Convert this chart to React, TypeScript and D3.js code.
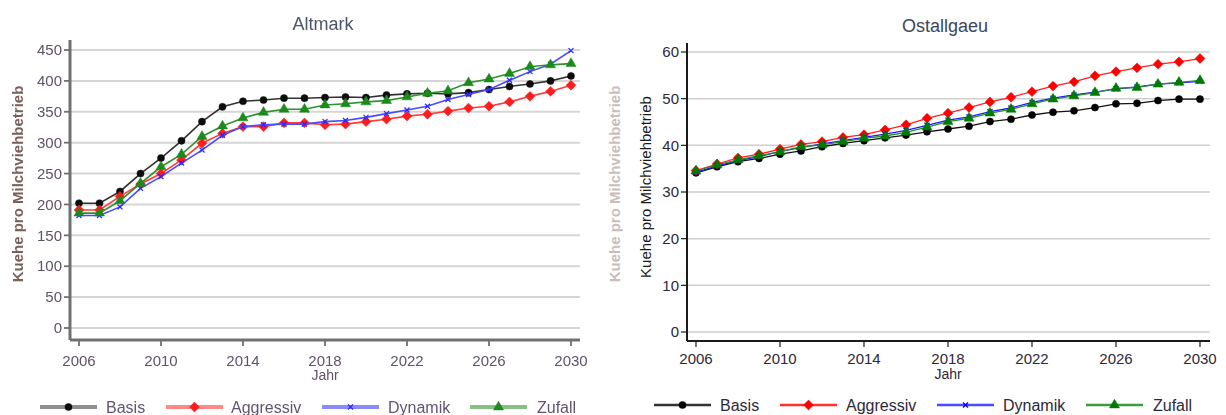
import React from "react";
import * as d3 from "d3";

// ---------------- DATA ----------------
const years = [2006, 2007, 2008, 2009, 2010, 2011, 2012, 2013, 2014, 2015, 2016, 2017, 2018, 2019, 2020, 2021, 2022, 2023, 2024, 2025, 2026, 2027, 2028, 2029, 2030];
const xTickYears = [2006, 2010, 2014, 2018, 2022, 2026, 2030];
const seriesNames = ["Basis", "Aggressiv", "Dynamik", "Zufall"];

const altmarkBasis = [202, 202, 221, 250, 275, 303, 334, 358, 367, 369, 372, 372, 373, 374, 373, 377, 379, 380, 379, 381, 386, 391, 395, 400, 408];
const altmarkAggressiv = [191, 191, 213, 233, 250, 272, 299, 315, 326, 326, 332, 332, 329, 330, 334, 338, 343, 346, 351, 356, 359, 366, 375, 383, 393];
const altmarkDynamik = [182, 182, 196, 226, 245, 267, 288, 312, 326, 329, 330, 330, 334, 336, 341, 347, 353, 359, 370, 378, 386, 401, 415, 427, 449];
const altmarkZufall = [186, 186, 206, 234, 261, 281, 310, 327, 340, 349, 354, 354, 361, 363, 366, 368, 374, 380, 384, 397, 403, 412, 423, 426, 428];
const altmarkYTicks = [0, 50, 100, 150, 200, 250, 300, 350, 400, 450];

const ostBasis = [34.1, 35.4, 36.5, 37.2, 38.1, 38.8, 39.7, 40.4, 41.0, 41.6, 42.2, 42.9, 43.5, 44.1, 45.1, 45.6, 46.5, 47.1, 47.4, 48.1, 48.9, 49.0, 49.6, 49.9, 49.9];
const ostAggressiv = [34.6, 36.0, 37.3, 38.1, 39.2, 40.2, 40.8, 41.7, 42.3, 43.3, 44.4, 45.8, 46.9, 48.1, 49.3, 50.3, 51.5, 52.7, 53.6, 54.9, 55.8, 56.6, 57.4, 57.9, 58.6];
const ostDynamik = [34.2, 35.6, 36.7, 37.6, 38.7, 39.5, 40.3, 41.0, 41.7, 42.4, 43.2, 44.3, 45.4, 46.1, 47.2, 48.0, 49.2, 50.1, 50.8, 51.4, 52.1, 52.5, 53.1, 53.4, 53.7];
const ostZufall = [34.5, 35.8, 36.9, 37.8, 38.6, 39.7, 40.1, 40.8, 41.5, 42.0, 42.8, 43.9, 45.1, 45.8, 46.9, 47.7, 48.9, 49.9, 50.6, 51.3, 52.2, 52.4, 53.1, 53.5, 53.9];
const ostYTicks = [0, 10, 20, 30, 40, 50, 60];

const FONT = "'Liberation Sans', Arial, sans-serif";

type Style = {
  line: string[];
  marker: string[];
  legendLine: string[];
  lineWidth: number;
  legendWidth: number;
  axis: string;
  axisWidth: number;
  grid: string;
  gridWidth: number;
  text: string;
  legendText: string;
  title: string;
};

const symbolTypes = [d3.symbolCircle, d3.symbolDiamond2, d3.symbolTimes, d3.symbolTriangle];
const symbolSizes = [40, 62, 18, 44];

type PanelProps = {
  title: string;
  series: number[][];
  yTicks: number[];
  yDomain: [number, number];
  xRange: [number, number];
  yRange: [number, number];
  axisX: number;
  axisTop: number;
  axisY: number;
  axisRight: number;
  titleX: number;
  titleY: number;
  yLabelX: number;
  yLabelY: number;
  yLabelBold: boolean;
  yLabelColor: string;
  xLabelBaseline: number;
  jahrBaseline: number;
  legendY: number;
  legendLineX: number[];
  legendTextX: number[];
  style: Style;
  blur?: boolean;
  id: string;
};

function Panel(p: PanelProps) {
  const x = d3.scaleLinear().domain([years[0], years[years.length - 1]]).range(p.xRange);
  const y = d3.scaleLinear().domain(p.yDomain).range(p.yRange);
  const line = d3
    .line<number>()
    .x((_, i) => x(years[i]))
    .y((d) => y(d));
  const s = p.style;
  const sym = (i: number, scale = 1) => d3.symbol().type(symbolTypes[i]).size(symbolSizes[i] * scale)() as string;

  return (
    <g filter={p.blur ? `url(#${p.id}-blur)` : undefined}>
      {p.blur && (
        <defs>
          <filter id={`${p.id}-blur`} x="-5%" y="-5%" width="110%" height="110%">
            <feGaussianBlur stdDeviation={0.45} />
          </filter>
        </defs>
      )}
      {/* title */}
      <text x={p.titleX} y={p.titleY} textAnchor="middle" fontFamily={FONT} fontSize={18} fill={s.title}>
        {p.title}
      </text>
      {/* grid */}
      {p.yTicks.map((t) => (
        <line key={"g" + t} x1={p.axisX} x2={p.axisRight} y1={y(t)} y2={y(t)} stroke={s.grid} strokeWidth={s.gridWidth} />
      ))}
      {/* y axis */}
      <line x1={p.axisX} x2={p.axisX} y1={p.axisTop} y2={p.axisY} stroke={s.axis} strokeWidth={s.axisWidth} />
      {p.yTicks.map((t) => (
        <g key={"yt" + t}>
          <line x1={p.axisX - 6} x2={p.axisX} y1={y(t)} y2={y(t)} stroke={s.axis} strokeWidth={s.axisWidth * 0.6} />
          <text x={p.axisX - 8} y={y(t)} dy="0.35em" textAnchor="end" fontFamily={FONT} fontSize={15} fill={s.text}>
            {t}
          </text>
        </g>
      ))}
      {/* x axis */}
      <line x1={p.axisX} x2={p.axisRight} y1={p.axisY} y2={p.axisY} stroke={s.axis} strokeWidth={s.axisWidth} />
      {xTickYears.map((t) => (
        <g key={"xt" + t}>
          <line x1={x(t)} x2={x(t)} y1={p.axisY} y2={p.axisY + 6} stroke={s.axis} strokeWidth={s.axisWidth * 0.6} />
          <text x={x(t)} y={p.xLabelBaseline} textAnchor="middle" fontFamily={FONT} fontSize={15} fill={s.text}>
            {t}
          </text>
        </g>
      ))}
      <text x={x(2018)} y={p.jahrBaseline} textAnchor="middle" fontFamily={FONT} fontSize={14} fill={s.text}>
        Jahr
      </text>
      {/* y label */}
      <text
        transform={`translate(${p.yLabelX},${p.yLabelY}) rotate(-90)`}
        textAnchor="middle"
        fontFamily={FONT}
        fontSize={15}
        fontWeight={p.yLabelBold ? "bold" : "normal"}
        fill={p.yLabelColor}
      >
        Kuehe pro Milchviehbetrieb
      </text>
      {/* series */}
      {p.series.map((vals, i) => (
        <g key={"s" + i}>
          <path d={line(vals) as string} fill="none" stroke={s.line[i]} strokeWidth={s.lineWidth} />
          {vals.map((v, j) => (
            <path
              key={j}
              d={sym(i)}
              transform={`translate(${x(years[j])},${y(v)})`}
              fill={i === 2 ? "none" : s.marker[i]}
              stroke={s.marker[i]}
              strokeWidth={i === 2 ? 1.3 : 0.5}
            />
          ))}
        </g>
      ))}
      {/* legend */}
      {seriesNames.map((n, i) => (
        <g key={"l" + n}>
          <line
            x1={p.legendLineX[i]}
            x2={p.legendLineX[i] + 57}
            y1={p.legendY}
            y2={p.legendY}
            stroke={s.legendLine[i]}
            strokeWidth={s.legendWidth}
          />
          <path
            d={sym(i)}
            transform={`translate(${p.legendLineX[i] + 28.5},${p.legendY})`}
            fill={i === 2 ? "none" : s.marker[i]}
            stroke={s.marker[i]}
            strokeWidth={i === 2 ? 1.3 : 0.5}
          />
          <text x={p.legendTextX[i]} y={p.legendY + 6} fontFamily={FONT} fontSize={16} fill={s.legendText}>
            {n}
          </text>
        </g>
      ))}
    </g>
  );
}

const leftStyle: Style = {
  line: ["#333333", "#ff3a3a", "#4a4aff", "#2f922f"],
  marker: ["#111111", "#ff1a1a", "#2a2aff", "#1a8a1a"],
  legendLine: ["#8f8f8f", "#ff8a8a", "#8a8aff", "#86c086"],
  lineWidth: 1.6,
  legendWidth: 4,
  axis: "#707070",
  axisWidth: 3,
  grid: "#d6d6d6",
  gridWidth: 2,
  text: "#5f5266",
  legendText: "#625470",
  title: "#4a5568",
};

const rightStyle: Style = {
  line: ["#111111", "#ff2020", "#1a1aff", "#2a8f2a"],
  marker: ["#000000", "#ff0000", "#0000ff", "#007a00"],
  legendLine: ["#333333", "#ff3030", "#4a4aff", "#3c9c3c"],
  lineWidth: 1.3,
  legendWidth: 2.5,
  axis: "#1a1a1a",
  axisWidth: 2,
  grid: "#cfcfcf",
  gridWidth: 1.5,
  text: "#2e2838",
  legendText: "#2e2838",
  title: "#3c4658",
};

export default function App() {
  return (
    <svg width={1226} height={415} style={{ position: "absolute", left: 0, top: 0, background: "#fff" }}>
      <rect x={0} y={0} width={1226} height={415} fill="#ffffff" />
      <Panel
        id="alt"
        title="Altmark"
        series={[altmarkBasis, altmarkAggressiv, altmarkDynamik, altmarkZufall]}
        yTicks={altmarkYTicks}
        yDomain={[0, 450]}
        xRange={[79, 571]}
        yRange={[328, 50]}
        axisX={70}
        axisTop={40}
        axisY={340}
        axisRight={580}
        titleX={323}
        titleY={30}
        yLabelX={23}
        yLabelY={184}
        yLabelBold={true}
        yLabelColor="#7a6058"
        xLabelBaseline={366}
        jahrBaseline={380}
        legendY={407}
        legendLineX={[40, 166, 322, 470]}
        legendTextX={[106, 231, 388, 537]}
        style={leftStyle}
        blur={true}
      />
      {/* faded ghost label */}
      <text
        transform={`translate(620,184) rotate(-90)`}
        textAnchor="middle"
        fontFamily={FONT}
        fontSize={15}
        fontWeight="bold"
        fill="#b8aaa4"
        opacity={0.75}
      >
        Kuehe pro Milchviehbetrieb
      </text>
      <Panel
        id="ost"
        title="Ostallgaeu"
        series={[ostBasis, ostAggressiv, ostDynamik, ostZufall]}
        yTicks={ostYTicks}
        yDomain={[0, 60]}
        xRange={[696, 1200]}
        yRange={[332, 52]}
        axisX={687}
        axisTop={43}
        axisY={341}
        axisRight={1210}
        titleX={945}
        titleY={32}
        yLabelX={651}
        yLabelY={187}
        yLabelBold={false}
        yLabelColor="#1a1a1a"
        xLabelBaseline={363.5}
        jahrBaseline={379}
        legendY={405}
        legendLineX={[654, 780, 937, 1086]}
        legendTextX={[720, 846, 1003, 1153]}
        style={rightStyle}
      />
    </svg>
  );
}
